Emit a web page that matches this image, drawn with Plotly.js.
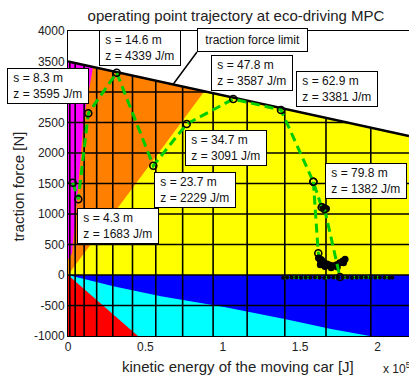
<!DOCTYPE html>
<html>
<head>
<meta charset="utf-8">
<script src="https://cdn.plot.ly/plotly-3.0.1.min.js"></script>
<style>
html,body{margin:0;padding:0;background:#fff;overflow:hidden;}
#chart{width:409px;height:381px;}
</style>
</head>
<body>
<div id="chart"></div>
<script>
// ---------- data ----------
// traction force limit (kinetic energy [J], force [N])
const limitE = [0, 220300];
const limitF = [3500, 2280];

// region boundaries
const orangeBoundE = [0, 88000];          // orange / yellow boundary
const orangeBoundF = [0, 3010];
const magentaBoundE = [0, 2600, 5200, 6500, 10300, 16150];
const magentaBoundF = [250, 360, 1066, 1443, 2574, 3411];
const cyanBoundE = [0, 30000, 60000, 100000, 140000, 170000, 195000];
const cyanBoundF = [0, -190, -350, -520, -720, -885, -1000];
const redBoundE = [0, 45200];
const redBoundF = [0, -1000];

// grid (vertical lines at speed grid energies, horizontal at forces)
const gridE = [1160, 4630, 10420, 18520, 28940, 41670, 56710, 74070, 93750, 115740, 140050, 166670, 195600];
const gridF = [-500, 0, 500, 1000, 1500, 2000, 2500, 3000];

// trajectory
const trajE = [3040, 6650, 13110, 31460, 55100, 76680, 106800, 137600, 158500, 163900, 165800, 175700];
const trajF = [1513, 1241, 2651, 3316, 1792, 2475, 2885, 2705, 1529, 1110, 1080, -33];
const branchE = [158500, 161700, 163500];
const branchF = [1529, 356, 240];
const blobE = [161800, 163500, 165500, 167500, 169500, 171500, 173500, 175500, 177500, 179000, 178000, 174000, 170000, 166000, 163000, 164500, 166000, 167000];
const blobF = [280, 240, 200, 180, 160, 150, 170, 200, 230, 260, 200, 130, 120, 140, 170, 1120, 1100, 1085];
const rowE = [139000, 141500, 144500, 147500, 150500, 153500, 156500, 159500, 162500, 165500, 168500, 171500, 174500, 177500, 180500, 183500, 186500, 189500, 192500, 195500, 198500, 201500, 204500, 207500, 209500];
const rowF = [-45, -40, -42, -38, -44, -40, -42, -38, -40, -45, -38, -40, -40, -42, -38, -44, -40, -42, -38, -45, -40, -42, -40, -44, -40];

// labelled points
const labelS = ['8.3', '14.6', '47.8', '62.9', '34.7', '23.7', '4.3', '79.8'];
const labelZ = ['3595', '4339', '3587', '3381', '3091', '2229', '1683', '1382'];
// label box top-left in pixels (layout)
const labelPx = [[7,68],[99,30],[211,55],[296,71],[185,130],[154,172],[77,208],[325,163]];

// axis ticks
const xTickVals = [0, 50000, 100000, 150000, 200000];
const xTickText = ['0', '0.5', '1', '1.5', '2'];
const yTickVals = [-1000, -500, 0, 500, 1000, 1500, 2000, 2500, 3000, 3500, 4000];
const yTickText = ['-1000', '-500', '0', '500', '1000', '1500', '2000', '2500', '3000', '3500', '4000'];

// ---------- helpers ----------
function limitAt(e) {
  const t = (e - limitE[0]) / (limitE[1] - limitE[0]);
  return limitF[0] + t * (limitF[1] - limitF[0]);
}
function limitEnergyFor(f) {
  const t = (f - limitF[0]) / (limitF[1] - limitF[0]);
  return Math.min(limitE[1], Math.max(0, limitE[0] + t * (limitE[1] - limitE[0])));
}
const xMax = limitE[1];

// filled regions as data-referenced path shapes, below all traces
function region(xs, ys, color) {
  const d = xs.map((x, i) => (i ? 'L' : 'M') + x + ',' + ys[i]).join(' ') + ' Z';
  return {type: 'path', xref: 'x', yref: 'y', path: d, fillcolor: color,
          line: {width: 0}, layer: 'below'};
}
const shapes = [
  region(limitE.concat([xMax, 0]), limitF.concat([0, 0]), '#ffff00'),
  region(orangeBoundE.concat([0]), orangeBoundF.concat([limitF[0]]), '#ff8000'),
  region(magentaBoundE.concat([0]), magentaBoundF.concat([limitF[0]]), '#ff00ff'),
  region([0, xMax, xMax, 0], [0, 0, -1000, -1000], '#0000ff'),
  region(cyanBoundE.concat([0]), cyanBoundF.concat([-1000]), '#00ffff'),
  region(redBoundE.concat([0]), redBoundF.concat([-1000]), '#ff0000')
];

const traces = [];
// grid lines (one trace, segments separated by gaps)
const gx = [], gy = [];
gridE.forEach(e => { gx.push(e, e, null); gy.push(-1000, limitAt(e), null); });
gridF.forEach(f => { gx.push(0, f >= limitF[1] ? limitEnergyFor(f) : xMax, null); gy.push(f, f, null); });
traces.push({x: gx, y: gy, type: 'scatter', mode: 'lines', line: {color: '#000', width: 1.6}});

// traction force limit
traces.push({x: limitE, y: limitF, type: 'scatter', mode: 'lines', line: {color: '#000', width: 2.5}});

const green = '#00cc00';
const mk = {symbol: 'circle-open', size: 7, color: '#000', line: {width: 1.6, color: '#000'}};
traces.push({x: rowE, y: rowF, type: 'scatter', mode: 'lines+markers',
  line: {color: green, width: 3, dash: '6px,4px'},
  marker: {symbol: 'circle', size: 4, color: '#000', line: {width: 0}}});
traces.push({x: branchE, y: branchF, type: 'scatter', mode: 'lines+markers',
  line: {color: green, width: 3, dash: '9px,5px'}, marker: mk});
traces.push({x: blobE, y: blobF, type: 'scatter', mode: 'markers',
  marker: {symbol: 'circle', size: 7, color: '#000', line: {width: 0}}});
traces.push({x: trajE, y: trajF, type: 'scatter', mode: 'lines+markers',
  line: {color: green, width: 3, dash: '9px,5px'}, marker: mk});

// ---------- annotations ----------
const PL = 68, PT = 31, PW = 341, PH = 305;
const font = 'Liberation Sans, Arial, Helvetica, sans-serif';
const annotations = [];
labelS.forEach((s, i) => {
  const [px, py] = labelPx[i];
  annotations.push({
    xref: 'paper', yref: 'paper', x: (px - PL) / PW, y: (PT + PH - py) / PH,
    xanchor: 'left', yanchor: 'top', showarrow: false, align: 'left',
    text: '\u00a0s = ' + s + ' m<br>\u00a0z = ' + labelZ[i] + ' J/m\u00a0',
    bgcolor: '#fff', bordercolor: '#000', borderwidth: 1, borderpad: 2,
    font: {family: font, size: 12, color: '#111'}
  });
});
annotations.push({
  xref: 'x', yref: 'y', x: 67830, y: 3124, axref: 'x', ayref: 'y', ax: 83330, ay: 3656,
  xanchor: 'left', yanchor: 'bottom', showarrow: true, arrowhead: 0, arrowwidth: 1.5,
  arrowcolor: '#000', standoff: 0, align: 'left',
  text: '\u00a0traction force limit\u00a0',
  bgcolor: '#fff', bordercolor: '#000', borderwidth: 1, borderpad: 4,
  font: {family: font, size: 12, color: '#111'}
});
annotations.push({xref: 'paper', yref: 'paper', x: (19 - PL) / PW, y: 0.49, textangle: -90,
  xanchor: 'center', yanchor: 'middle', showarrow: false, text: 'traction force [N]',
  font: {family: font, size: 15, color: '#222'}});
annotations.push({xref: 'paper', yref: 'paper', x: (238 - PL) / PW, y: (PT + PH - 366) / PH,
  xanchor: 'center', yanchor: 'middle', showarrow: false, text: 'kinetic energy of the moving car [J]',
  font: {family: font, size: 15, color: '#222'}});
annotations.push({xref: 'paper', yref: 'paper', x: (381 - PL) / PW, y: (PT + PH - 368) / PH,
  xanchor: 'left', yanchor: 'middle', showarrow: false, text: 'x 10<sup>5</sup>',
  font: {family: font, size: 12, color: '#222'}});

const layout = {
  width: 409, height: 381,
  margin: {l: PL, r: 0, t: PT, b: 381 - PT - PH, pad: 0},
  paper_bgcolor: '#fff', plot_bgcolor: '#fff',
  showlegend: false, hovermode: false,
  font: {family: font, size: 12, color: '#222'},
  title: {text: 'operating point trajectory at eco-driving MPC', x: 236 / 409, xanchor: 'center',
          xref: 'container', y: 1 - 16 / 381, yanchor: 'middle', yref: 'container',
          font: {family: font, size: 15, color: '#222'}},
  xaxis: {range: [0, xMax], tickvals: xTickVals, ticktext: xTickText, showgrid: false, zeroline: false,
          showline: true, linecolor: '#000', linewidth: 1, mirror: true, ticks: '',
          tickfont: {family: font, size: 12, color: '#222'}},
  yaxis: {range: [-1000, 4000], tickvals: yTickVals, ticktext: yTickText, showgrid: false, zeroline: false,
          showline: true, linecolor: '#000', linewidth: 1, ticks: '',
          tickfont: {family: font, size: 12, color: '#222'}},
  shapes: shapes,
  annotations: annotations
};

Plotly.newPlot('chart', traces, layout, {displayModeBar: false, staticPlot: true});
</script>
</body>
</html>
